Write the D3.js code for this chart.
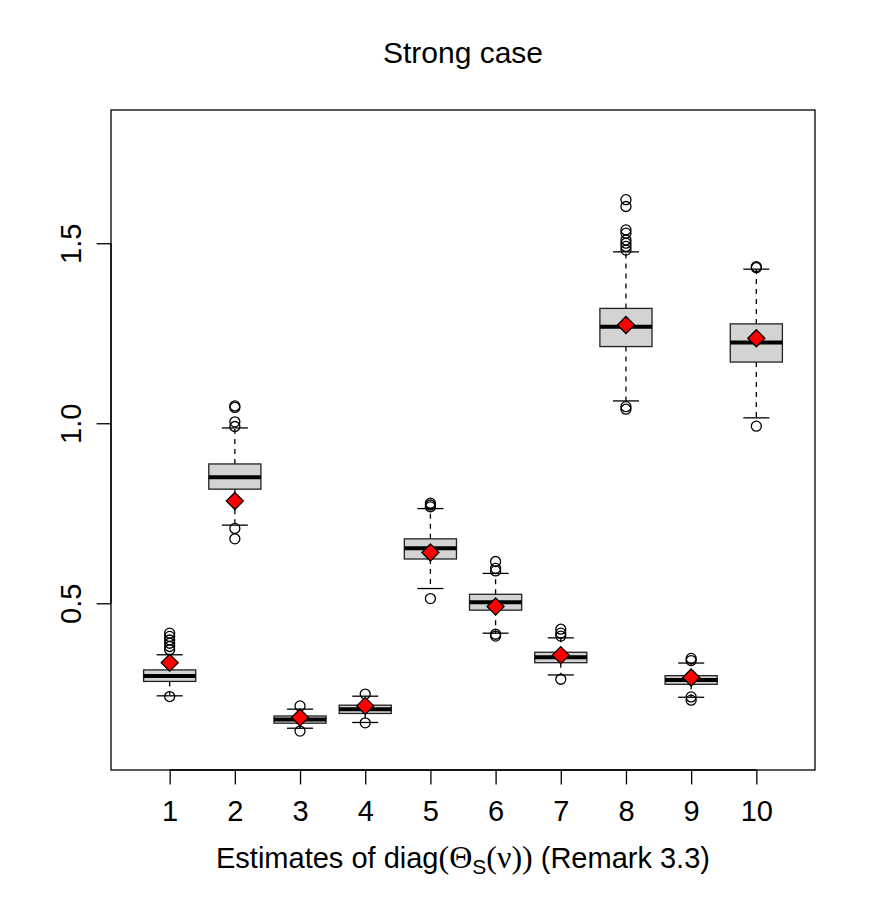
<!DOCTYPE html>
<html>
<head>
<meta charset="utf-8">
<script src="https://cdn.jsdelivr.net/npm/d3@7"></script>
<style>
  body { margin: 0; background: #fff; }
  text { font-family: "Liberation Sans", Arial, Helvetica, sans-serif; fill: #000; }
</style>
</head>
<body>
<div class="svg-container"></div>
<script>
// data
const estimates = [1, 2, 3, 4, 5, 6, 7, 8, 9, 10];
const lowerWhisker = [0.243, 0.717, 0.153, 0.169, 0.541, 0.417, 0.301, 1.062, 0.239, 1.015];
const q1Values = [0.283, 0.817, 0.167, 0.194, 0.623, 0.481, 0.335, 1.213, 0.275, 1.170];
const medians = [0.298, 0.850, 0.177, 0.206, 0.653, 0.503, 0.350, 1.268, 0.287, 1.224];
const q3Values = [0.315, 0.887, 0.187, 0.217, 0.679, 0.525, 0.364, 1.319, 0.299, 1.276];
const upperWhisker = [0.357, 0.987, 0.206, 0.242, 0.763, 0.583, 0.404, 1.476, 0.334, 1.428];
const meanValues = [0.335, 0.784, 0.183, 0.215, 0.641, 0.491, 0.356, 1.273, 0.294, 1.236];
const outliers = [
  [0.417, 0.408, 0.398, 0.389, 0.380, 0.371, 0.241],
  [1.048, 1.044, 1.004, 0.991, 0.708, 0.679],
  [0.215, 0.145],
  [0.248, 0.168],
  [0.778, 0.773, 0.768, 0.513],
  [0.616, 0.597, 0.590, 0.414, 0.409],
  [0.428, 0.417, 0.409, 0.289],
  [1.621, 1.602, 1.537, 1.528, 1.509, 1.500, 1.491, 1.481, 1.046, 1.039],
  [0.347, 0.341, 0.240, 0.231],
  [1.435, 1.432, 0.992]
];
const yTicks = [0.5, 1.0, 1.5];

const width = 872, height = 910;
const plot = { left: 111, right: 815, top: 110, bottom: 770 };
const boxWidth = 0.8;
const fontSize = 29;

const boxes = estimates.map((e, i) => ({
  x: e,
  lw: lowerWhisker[i], q1: q1Values[i], med: medians[i], q3: q3Values[i], uw: upperWhisker[i],
  mean: meanValues[i], out: outliers[i]
}));

//X SCALE
const xScale = d3.scaleLinear()
  .domain([0.1, 10.9])
  .range([plot.left, plot.right]);

//Y SCALE
const yScale = d3.scaleLinear()
  .domain([0.037, 1.870])
  .range([plot.bottom, plot.top]);

const svg = d3.select(".svg-container")
  .append("svg")
  .attr("width", width)
  .attr("height", height);

const halfBox = (xScale(boxWidth) - xScale(0)) / 2;
const halfCap = halfBox / 2;

const g = svg.selectAll(".box")
  .data(boxes)
  .enter()
  .append("g")
  .attr("class", "box");

// dashed whiskers
g.append("line")
  .attr("x1", d => xScale(d.x)).attr("x2", d => xScale(d.x))
  .attr("y1", d => yScale(d.q3)).attr("y2", d => yScale(d.uw))
  .attr("stroke", "#000").attr("stroke-width", 1.3).attr("stroke-dasharray", "5,5");
g.append("line")
  .attr("x1", d => xScale(d.x)).attr("x2", d => xScale(d.x))
  .attr("y1", d => yScale(d.q1)).attr("y2", d => yScale(d.lw))
  .attr("stroke", "#000").attr("stroke-width", 1.3).attr("stroke-dasharray", "5,5");

// staples
g.append("line")
  .attr("x1", d => xScale(d.x) - halfCap).attr("x2", d => xScale(d.x) + halfCap)
  .attr("y1", d => yScale(d.uw)).attr("y2", d => yScale(d.uw))
  .attr("stroke", "#000").attr("stroke-width", 1.3);
g.append("line")
  .attr("x1", d => xScale(d.x) - halfCap).attr("x2", d => xScale(d.x) + halfCap)
  .attr("y1", d => yScale(d.lw)).attr("y2", d => yScale(d.lw))
  .attr("stroke", "#000").attr("stroke-width", 1.3);

// boxes
g.append("rect")
  .attr("x", d => xScale(d.x) - halfBox)
  .attr("width", halfBox * 2)
  .attr("y", d => yScale(d.q3))
  .attr("height", d => yScale(d.q1) - yScale(d.q3))
  .attr("fill", "#d3d3d3")
  .attr("stroke", "#222")
  .attr("stroke-width", 1.3);

// medians
g.append("line")
  .attr("x1", d => xScale(d.x) - halfBox).attr("x2", d => xScale(d.x) + halfBox)
  .attr("y1", d => yScale(d.med)).attr("y2", d => yScale(d.med))
  .attr("stroke", "#000").attr("stroke-width", 4);

// outliers
g.selectAll(".out")
  .data(d => d.out.map(v => ({ x: d.x, v: v })))
  .enter()
  .append("circle")
  .attr("class", "out")
  .attr("cx", d => xScale(d.x))
  .attr("cy", d => yScale(d.v))
  .attr("r", 5)
  .attr("fill", "none")
  .attr("stroke", "#000")
  .attr("stroke-width", 1.3);

// means
const dia = 8.5;
svg.selectAll(".mean")
  .data(boxes)
  .enter()
  .append("path")
  .attr("class", "mean")
  .attr("transform", d => "translate(" + xScale(d.x) + "," + yScale(d.mean) + ")")
  .attr("d", "M0," + (-dia) + "L" + dia + ",0L0," + dia + "L" + (-dia) + ",0Z")
  .attr("fill", "#ff0000")
  .attr("stroke", "#000")
  .attr("stroke-width", 1.3);

//FRAME
svg.append("rect")
  .attr("x", plot.left).attr("y", plot.top)
  .attr("width", plot.right - plot.left)
  .attr("height", plot.bottom - plot.top)
  .attr("fill", "none")
  .attr("stroke", "#000")
  .attr("stroke-width", 1.3);

//X-AXIS
const xAxis = svg.append("g")
  .attr("transform", "translate(0," + plot.bottom + ")")
  .attr("id", "x-axis")
  .call(d3.axisBottom(xScale).tickValues(estimates).tickSize(14.4).tickPadding(15.7).tickFormat(d => d));
xAxis.select(".domain")
  .attr("d", "M" + xScale(1) + ",0H" + xScale(10))
  .attr("stroke-width", 1.3);
xAxis.selectAll(".tick line").attr("stroke-width", 1.3);
xAxis.selectAll("text")
  .attr("font-size", fontSize)
  .attr("font-family", "Liberation Sans, Arial, sans-serif")
  .attr("fill", "#000");

//Y-AXIS
const yAxis = svg.append("g")
  .attr("transform", "translate(" + plot.left + ",0)")
  .attr("id", "y-axis")
  .call(d3.axisLeft(yScale).tickValues(yTicks).tickSize(14.4).tickFormat(d3.format(".1f")));
yAxis.select(".domain")
  .attr("d", "M0," + yScale(yTicks[0]) + "V" + yScale(yTicks[2]))
  .attr("stroke-width", 1.3);
yAxis.selectAll(".tick line").attr("stroke-width", 1.3);
yAxis.selectAll("text")
  .attr("font-size", fontSize)
  .attr("font-family", "Liberation Sans, Arial, sans-serif")
  .attr("fill", "#000")
  .attr("text-anchor", "middle")
  .attr("dy", null)
  .attr("x", null)
  .attr("transform", "translate(-30.3,0) rotate(-90)");

//TITLE
svg.append("text")
  .attr("x", (plot.left + plot.right) / 2)
  .attr("y", 63)
  .attr("text-anchor", "middle")
  .attr("font-size", 30)
  .text("Strong case");

//X-LABEL
const xLabel = svg.append("text")
  .attr("x", (plot.left + plot.right) / 2)
  .attr("y", 867.5)
  .attr("text-anchor", "middle")
  .attr("font-size", fontSize);
xLabel.append("tspan").text("Estimates of diag");
xLabel.append("tspan").attr("font-family", "Liberation Serif, serif").attr("font-size", 32).text("(Θ");
xLabel.append("tspan").attr("font-size", 21).attr("dy", 6).text("S");
xLabel.append("tspan").attr("font-family", "Liberation Serif, serif").attr("font-size", 32).attr("dy", -6).text("(ν))");
xLabel.append("tspan").text(" (Remark 3.3)");
</script>
</body>
</html>
